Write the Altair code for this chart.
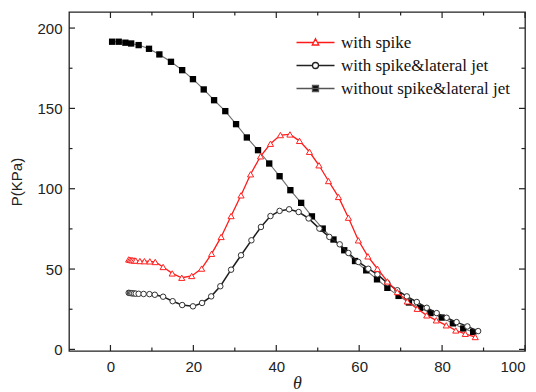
import altair as alt
import pandas as pd

# ---------------- data ----------------
series_names = ["with spike", "with spike&lateral jet", "without spike&lateral jet"]

theta_spike = [4.4, 4.7, 5.0, 5.3, 5.7, 6.1, 7.1, 8.2, 9.5, 10.8, 12.7, 14.9, 17.2, 19.6,
               22.0, 24.4, 26.7, 29.1, 31.5, 33.8, 36.2, 38.6, 41.0, 43.3, 45.6, 48.0,
               50.3, 52.6, 55.0, 57.4, 59.8, 62.1, 64.4, 66.8, 69.2, 71.6, 74.0, 76.3,
               78.6, 81.0, 83.3, 85.6, 88.0]
p_spike = [56.0, 55.8, 55.6, 55.5, 55.4, 55.3, 55.0, 54.9, 54.8, 54.4, 51.3, 47.3, 44.6, 45.7,
           50.3, 59.5, 70.0, 83.0, 95.9, 109.0, 120.2, 128.0, 133.4, 133.8, 129.8, 123.0,
           114.6, 104.8, 94.9, 82.0, 67.9, 57.9, 50.2, 42.3, 35.7, 29.9, 25.3, 21.2,
           18.1, 15.0, 11.8, 9.7, 7.7]

theta_jet = [4.4, 4.7, 5.0, 5.3, 5.7, 6.1, 6.8, 8.0, 9.4, 10.7, 12.7, 15.0, 17.3, 19.9,
             22.1, 24.3, 26.5, 29.1, 31.5, 34.0, 36.3, 38.6, 40.8, 43.1, 45.4, 47.8,
             50.4, 52.8, 55.3, 57.4, 59.8, 62.2, 64.4, 66.8, 69.2, 71.5, 73.9, 76.3,
             78.7, 81.1, 83.5, 86.1, 88.7]
p_jet = [35.2, 35.1, 35.0, 34.9, 34.8, 34.7, 34.6, 34.5, 34.4, 34.0, 32.8, 30.0, 27.6, 26.8,
         28.9, 33.0, 39.3, 49.6, 58.6, 67.9, 76.2, 83.0, 86.2, 87.2, 85.5, 81.5,
         75.2, 70.0, 65.4, 60.0, 54.4, 50.2, 46.7, 41.3, 36.8, 33.0, 29.5, 25.9,
         22.6, 19.7, 17.0, 14.3, 11.4]

theta_none = [0.4, 2.0, 3.6, 5.0, 6.8, 9.3, 11.8, 14.6, 17.3, 19.9, 22.5, 25.0, 27.7,
              30.3, 32.9, 35.6, 38.3, 40.8, 43.4, 46.0, 48.6, 51.2, 53.8, 56.4, 59.0,
              61.7, 64.3, 66.8, 69.5, 72.0, 74.7, 77.2, 79.9, 82.6, 85.1, 87.5]
p_none = [191.5, 191.5, 190.9, 190.4, 189.4, 187.1, 183.6, 179.0, 173.8, 168.2, 161.8, 155.1,
          148.3, 140.2, 131.9, 124.0, 115.7, 107.8, 99.1, 91.2, 82.8, 75.2, 68.4, 61.7,
          55.0, 49.2, 43.6, 38.3, 33.3, 29.2, 25.8, 22.6, 19.8, 16.2, 13.0, 10.8]

x_major = list(range(0, 101, 20))
x_minor = list(range(10, 100, 20))
y_major = list(range(0, 201, 50))
y_minor = list(range(25, 200, 50))

df_spike = pd.DataFrame({"theta": theta_spike, "P": p_spike})
df_jet = pd.DataFrame({"theta": theta_jet, "P": p_jet})
df_none = pd.DataFrame({"theta": theta_none, "P": p_none})
df_legend = pd.DataFrame({"series": series_names})

# ---------------- layout ----------------
W, H = 456, 339
xs = alt.Scale(domain=[-10, 100], nice=False, zero=False)
ys = alt.Scale(domain=[-1, 210], nice=False, zero=False)

AX = "#222222"
MAJ, MIN = 6, 3.5

# main axes: labels + titles
ax_x_main = alt.Axis(orient="bottom", values=x_major, ticks=False, tickSize=0, domain=False,
                     grid=False, labelPadding=8, labelFont="Liberation Sans", labelFontSize=15,
                     labelColor=AX, title="θ", titleFont="Liberation Serif", titleFontStyle="italic",
                     titleFontWeight="normal", titleFontSize=18, titlePadding=0, titleColor=AX)
ax_y_main = alt.Axis(orient="left", values=y_major, ticks=False, tickSize=0, domain=False,
                     grid=False, labelPadding=7, labelFont="Liberation Sans", labelFontSize=15,
                     labelColor=AX, title="P(KPa)", titleFont="Liberation Sans",
                     titleFontWeight="normal", titleFontSize=15, titlePadding=12, titleColor=AX)


def enc(chart, xaxis=None, yaxis=None):
    return chart.encode(x=alt.X("theta:Q", scale=xs, axis=xaxis),
                        y=alt.Y("P:Q", scale=ys, axis=yaxis))


none_line = enc(alt.Chart(df_none).mark_line(color="#6e6e6e", strokeWidth=1.1), ax_x_main, ax_y_main)
none_pts = enc(alt.Chart(df_none).mark_point(shape="square", filled=True, color="#000000",
                                             size=40, opacity=1))
jet_line = enc(alt.Chart(df_jet).mark_line(color="#1e1e1e", strokeWidth=1.5))
jet_pts = enc(alt.Chart(df_jet).mark_point(shape="circle", fill="white", stroke="#333333",
                                           strokeWidth=1, size=30, opacity=1))
spike_line = enc(alt.Chart(df_spike).mark_line(color="#ff1a1a", strokeWidth=1.3))
spike_pts = enc(alt.Chart(df_spike).mark_point(shape="triangle-up", fill="white", stroke="#ff2020",
                                               strokeWidth=1, size=38, opacity=1))


# inward tick marks on all four sides (positions come from the x / y scales)
def xticks(values, length, top):
    d = pd.DataFrame({"t": values})
    if top:
        yv, y2v = 0, length
    else:
        yv, y2v = H, H - length
    return alt.Chart(d).mark_rule(color=AX, strokeWidth=1.2).encode(
        x=alt.X("t:Q", scale=xs, axis=None), y=alt.value(yv), y2=alt.value(y2v))


def yticks(values, length, right):
    d = pd.DataFrame({"t": values})
    if right:
        xv, x2v = W, W - length
    else:
        xv, x2v = 0, length
    return alt.Chart(d).mark_rule(color=AX, strokeWidth=1.2).encode(
        y=alt.Y("t:Q", scale=ys, axis=None), x=alt.value(xv), x2=alt.value(x2v))


tick_layers = [
    xticks(x_major, MAJ, False), xticks(x_minor, MIN, False),
    xticks(x_major, MAJ, True), xticks(x_minor, MIN, True),
    yticks(y_major, MAJ, False), yticks(y_minor, MIN, False),
    yticks(y_major, MAJ, True), yticks(y_minor, MIN, True),
]

# legend symbols: line with marker (custom paths, unit = 5 px at size 100)
path_tri = "M-6.6,0L-3.2,0M-2.4,0L1,0M-2.8,-0.75L-2.15,0.5L-3.45,0.5Z"
path_circ = ("M-6.6,0L-3.4,0M-2.2,0L1,0M-3.4,0A0.6,0.6,0,1,0,-2.2,0"
             "A0.6,0.6,0,1,0,-3.4,0Z")
path_sq = "M-6.6,0L1,0M-3.4,-0.6L-2.2,-0.6L-2.2,0.6L-3.4,0.6Z"

leg = alt.Legend(title=None, orient="none", legendX=252, legendY=22)
legend_layer = alt.Chart(df_legend).mark_point(size=100, strokeWidth=1.3, opacity=1).encode(
    x=alt.value(-500), y=alt.value(-500),
    fill=alt.Fill("series:N", scale=alt.Scale(domain=series_names, range=["white", "white", "black"]),
                  legend=leg),
    stroke=alt.Stroke("series:N", scale=alt.Scale(domain=series_names,
                                                  range=["#ff1a1a", "#222222", "#555555"]),
                      legend=leg),
    shape=alt.Shape("series:N", scale=alt.Scale(domain=series_names,
                                                range=[path_tri, path_circ, path_sq]),
                    legend=leg),
)

chart = alt.layer(
    none_line, none_pts, jet_line, jet_pts, spike_line, spike_pts, *tick_layers, legend_layer
).resolve_scale(x="shared", y="shared").resolve_axis(x="independent", y="independent").properties(
    width=W, height=H,
    autosize=alt.AutoSizeParams(type="none"),
    padding={"left": 69, "top": 12, "right": 11, "bottom": 41},
    background="white",
).configure_view(stroke="#222222", strokeWidth=1.3).configure_legend(
    symbolSize=100, symbolStrokeWidth=1.3, labelFont="Liberation Serif", labelFontSize=17,
    labelColor="#111111", labelOffset=3, rowPadding=5, padding=0, symbolOffset=0, labelLimit=400,
)

chart.save("out.html", embed_options={"renderer": "svg", "actions": False})
